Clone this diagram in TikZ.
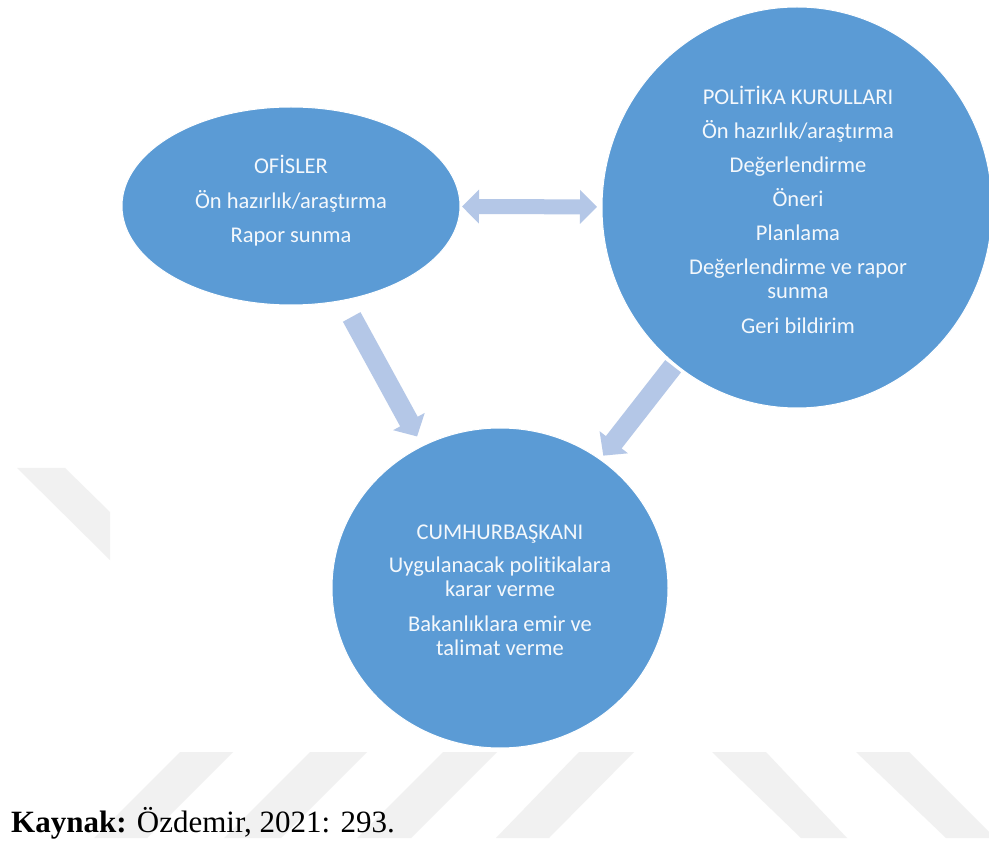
\documentclass[tikz,border=0pt]{standalone}
\usepackage{fontspec}
\setmainfont{Carlito}[Ligatures=CommonOff]
\newfontfamily\captionserif{Liberation Serif}
\usetikzlibrary{arrows.meta,shapes.geometric}

\definecolor{bubblefill}{HTML}{5B9BD5}
\definecolor{flowfill}{HTML}{B4C7E7}
\definecolor{stripefill}{HTML}{F1F1F1}
\definecolor{bubbleink}{HTML}{F4F8FC}

\begin{document}
\begin{tikzpicture}[x=1pt,y=-1pt,
  bubble/.style={ellipse, fill=bubblefill, draw=white, line width=1pt,
    inner sep=0pt, outer sep=0pt},
  bubbletext/.style={text=bubbleink, font=\fontsize{22.5}{24}\selectfont,
    align=center, inner sep=0pt, anchor=north},
  flowarrow/.style={draw=flowfill, line width=20pt,
    -{Triangle[width=35pt,length=17pt]}},
  twowayarrow/.style={draw=flowfill, line width=15pt,
    {Triangle[width=33pt,length=17pt]}-{Triangle[width=33pt,length=17pt]}}
]
% page
\fill[white] (0,0) rectangle (989,842);
\useasboundingbox (0,0) rectangle (989,842);

% faint background stripes
\fill[stripefill] (17,468) -- (65,468) -- (110,512) -- (110,560) -- cycle;
\fill[stripefill] (180,752) -- (233,752) -- (147,838) -- (94,838) -- cycle;
\fill[stripefill] (310,752) -- (367,752) -- (281,838) -- (224,838) -- cycle;
\fill[stripefill] (443,752) -- (497,752) -- (411,838) -- (357,838) -- cycle;
\fill[stripefill] (579,752) -- (634,752) -- (549,838) -- (496,838) -- cycle;
\fill[stripefill] (712,752) -- (766,752) -- (847,838) -- (801,838) -- cycle;
\fill[stripefill] (856,752) -- (909,752) -- (995,838) -- (946,838) -- cycle;

% the three bodies
\node[bubble, minimum width=338pt, minimum height=198pt] (ofis) at (291,206) {};
\node[bubble, minimum width=390pt, minimum height=401pt] (politika) at (797,207.5) {};
\node[bubble, minimum width=336pt, minimum height=320pt] (cumhur) at (500,588) {};

% their texts
\node[bubbletext] (ofistext) at (291,153)
  {\rule{0pt}{20pt}OFİSLER\\[11pt]
   Ön hazırlık/araştırma\\[10pt]
   Rapor sunma};
\node[bubbletext] (politikatext) at (798,84)
  {\rule{0pt}{20pt}POLİTİKA KURULLARI\\[10.5pt]
   Ön hazırlık/araştırma\\[10pt]
   Değerlendirme\\[10pt]
   Öneri\\[10pt]
   Planlama\\[10pt]
   Değerlendirme ve rapor\\
   sunma\\[11pt]
   Geri bildirim};
\node[bubbletext] (cumhurtext) at (500,519)
  {\rule{0pt}{20pt}CUMHURBAŞKANI\\[9pt]
   Uygulanacak politikalara\\
   karar verme\\[11pt]
   Bakanlıklara emir ve\\
   talimat verme};

% links between the bodies
\draw[twowayarrow, shorten <=2pt, shorten >=5pt] (ofis) -- (politika);
\draw[flowarrow, shorten <=19pt, shorten >=11pt] (ofis) -- (cumhur);
\draw[flowarrow, shorten <=3pt, shorten >=5pt] (politika) -- (cumhur);

% source line
\node[anchor=base west, inner sep=0pt,
  font=\captionserif\fontsize{31}{31}\selectfont] (source) at (11,832)
  {\textbf{Kaynak:} Özdemir, 2021: 293.};
\end{tikzpicture}
\end{document}
